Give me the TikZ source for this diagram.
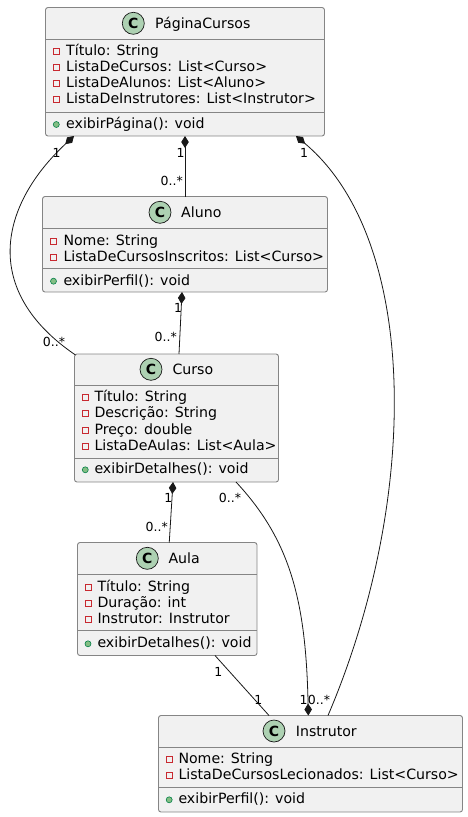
\documentclass[tikz,border=0pt]{standalone}
\usepackage{fontspec}
\setmainfont{DejaVu Sans}
\usetikzlibrary{arrows.meta,calc}

\definecolor{boxfill}{HTML}{F1F1F1}
\definecolor{boxline}{HTML}{858585}
\definecolor{spot}{HTML}{ADD1B2}
\definecolor{privred}{HTML}{C82930}
\definecolor{pubfill}{HTML}{84BE84}
\definecolor{publine}{HTML}{038048}
\definecolor{edge}{HTML}{181818}

\tikzset{
  classbox/.style={draw=boxline, fill=boxfill, rounded corners=2.5pt, line width=0.9pt, inner sep=0pt, outer sep=0pt},
  divider/.style={draw=boxline, line width=0.9pt},
  member/.style={anchor=base west, inner sep=0pt, font=\fontsize{14.15}{16}\selectfont},
  badge/.style={circle, draw=edge, fill=spot, minimum size=22pt, inner sep=0pt, line width=0.7pt, font=\fontsize{14}{16}\selectfont\bfseries},
  mult/.style={inner sep=0pt, font=\fontsize{12.5}{14}\selectfont},
  privmark/.style={draw=privred, line width=0.8pt},
  pubmark/.style={draw=publine, fill=pubfill, line width=0.6pt},
  link/.style={draw=edge, line width=0.8pt},
  owns/.style={link, {Diamond[length=12pt,width=7.5pt]}-},
  ownedby/.style={link, -{Diamond[length=12pt,width=7.5pt]}},
}

% #1 node name, #2 icon x, #3 text x, #4 baseline y, #5 text
\newcommand\privrow[5]{%
  \draw[privmark] (#2,#4) ++(-3,-7) rectangle ++(6,6);
  \node[member] (#1) at (#3,#4) {#5};}
\newcommand\pubrow[5]{%
  \filldraw[pubmark] (#2,#4) ++(0,-4) circle (3pt);
  \node[member] (#1) at (#3,#4) {#5};}

\begin{document}
\begin{tikzpicture}[x=1pt, y=-1pt]
\useasboundingbox (0,0) rectangle (468,817);

% ---------- PáginaCursos ----------
\node[classbox, minimum width=279pt, minimum height=128.5pt] (pag) at (185,71.75) {};
\draw[divider] ($(pag.north west)+(0,32)$) -- ($(pag.north east)+(0,32)$);
\draw[divider] ($(pag.north west)+(0,105)$) -- ($(pag.north east)+(0,105)$);
\node[badge] (pag-c) at (133.3,23.3) {C};
\node[member] (pag-t) at (155,28.3) {PáginaCursos};
\privrow{pag-a1}{56.3}{66}{55.5}{Título: String}
\privrow{pag-a2}{56.3}{66}{71.8}{ListaDeCursos: List<Curso>}
\privrow{pag-a3}{56.3}{66}{87.8}{ListaDeAlunos: List<Aluno>}
\privrow{pag-a4}{56.3}{66}{103.8}{ListaDeInstrutores: List<Instrutor>}
\pubrow{pag-m1}{56.3}{66}{128.5}{exibirPágina(): void}

% ---------- Aluno ----------
\node[classbox, minimum width=285pt, minimum height=95.5pt] (alu) at (185,244.25) {};
\draw[divider] ($(alu.north west)+(0,32)$) -- ($(alu.north east)+(0,32)$);
\draw[divider] ($(alu.north west)+(0,72)$) -- ($(alu.north east)+(0,72)$);
\node[badge] (alu-c) at (160,212.3) {C};
\node[member] (alu-t) at (181,217.3) {Aluno};
\privrow{alu-a1}{53.5}{63.3}{245.2}{Nome: String}
\privrow{alu-a2}{53.5}{63.3}{261.2}{ListaDeCursosInscritos: List<Curso>}
\pubrow{alu-m1}{53.5}{63.3}{285.2}{exibirPerfil(): void}

% ---------- Curso ----------
\node[classbox, minimum width=204pt, minimum height=128pt] (cur) at (176.5,418) {};
\draw[divider] ($(cur.north west)+(0,31)$) -- ($(cur.north east)+(0,31)$);
\draw[divider] ($(cur.north west)+(0,104.3)$) -- ($(cur.north east)+(0,104.3)$);
\node[badge] (cur-c) at (151,369.3) {C};
\node[member] (cur-t) at (172.3,374.3) {Curso};
\privrow{cur-a1}{85.3}{94.3}{401.8}{Título: String}
\privrow{cur-a2}{85.3}{94.3}{417.8}{Descrição: String}
\privrow{cur-a3}{85.3}{94.3}{434.5}{Preço: double}
\privrow{cur-a4}{85.3}{94.3}{450.5}{ListaDeAulas: List<Aula>}
\pubrow{cur-m1}{85.3}{94.3}{473.8}{exibirDetalhes(): void}

% ---------- Aula ----------
\node[classbox, minimum width=179.5pt, minimum height=113pt] (aul) at (167.25,599) {};
\draw[divider] ($(aul.north west)+(0,31.5)$) -- ($(aul.north east)+(0,31.5)$);
\draw[divider] ($(aul.north west)+(0,87.5)$) -- ($(aul.north east)+(0,87.5)$);
\node[badge] (aul-c) at (147.3,558.3) {C};
\node[member] (aul-t) at (168.3,563.3) {Aula};
\privrow{aul-a1}{88}{97.3}{591.2}{Título: String}
\privrow{aul-a2}{88}{97.3}{607.2}{Duração: int}
\privrow{aul-a3}{88}{97.3}{623.8}{Instrutor: Instrutor}
\pubrow{aul-m1}{88}{97.3}{647.8}{exibirDetalhes(): void}

% ---------- Instrutor ----------
\node[classbox, minimum width=304pt, minimum height=96.5pt] (ins) at (310.5,763.75) {};
\draw[divider] ($(ins.north west)+(0,31.8)$) -- ($(ins.north east)+(0,31.8)$);
\draw[divider] ($(ins.north west)+(0,71.8)$) -- ($(ins.north east)+(0,71.8)$);
\node[badge] (ins-c) at (274,731) {C};
\node[member] (ins-t) at (295.7,736) {Instrutor};
\privrow{ins-a1}{169.2}{178.3}{763.8}{Nome: String}
\privrow{ins-a2}{169.2}{178.3}{779.5}{ListaDeCursosLecionados: List<Curso>}
\pubrow{ins-m1}{169.2}{178.3}{803.8}{exibirPerfil(): void}

% ---------- compositions ----------
\draw[owns] ($(pag.south)+(-111,0)$) .. controls (0,205) and (-20,290) .. ($(cur.north west)+(1,1)$);
\draw[owns] (pag.south) -- (alu.north);
\draw[owns] ($(pag.south)+(111,0)$) .. controls (420,240) and (420,500) .. ($(ins.north)+(17.5,0)$);
\draw[owns] ($(alu.south)+(-3,0)$) -- ($(cur.north)+(2.5,0)$);
\draw[owns] ($(cur.south)+(-3.5,0)$) -- ($(aul.north)+(2,0)$);
\draw[ownedby] ($(cur.south)+(59.5,0)$) .. controls (290,540) and (306,600) .. ($(ins.north)+(-2.2,0)$);
\draw[link] ($(aul.south)+(47.75,0)$) -- ($(ins.north)+(-41.5,0)$);

% ---------- multiplicities ----------
\node[mult] (m1a) at (56.7,153) {1};
\node[mult] (m1b) at (54,341.7) {0..*};
\node[mult] (m2a) at (180.7,153) {1};
\node[mult] (m2b) at (171.7,181) {0..*};
\node[mult] (m3a) at (304,153) {1};
\node[mult] (m3b) at (319,700) {0..*};
\node[mult] (m4a) at (178,308) {1};
\node[mult] (m4b) at (165.7,336.7) {0..*};
\node[mult] (m5a) at (168.3,497.7) {1};
\node[mult] (m5b) at (156.7,526.7) {0..*};
\node[mult] (m6a) at (230,497.7) {0..*};
\node[mult] (m6b) at (303.5,700) {1};
\node[mult] (m7a) at (218.3,671.7) {1};
\node[mult] (m7b) at (258.3,700) {1};
\end{tikzpicture}
\end{document}
